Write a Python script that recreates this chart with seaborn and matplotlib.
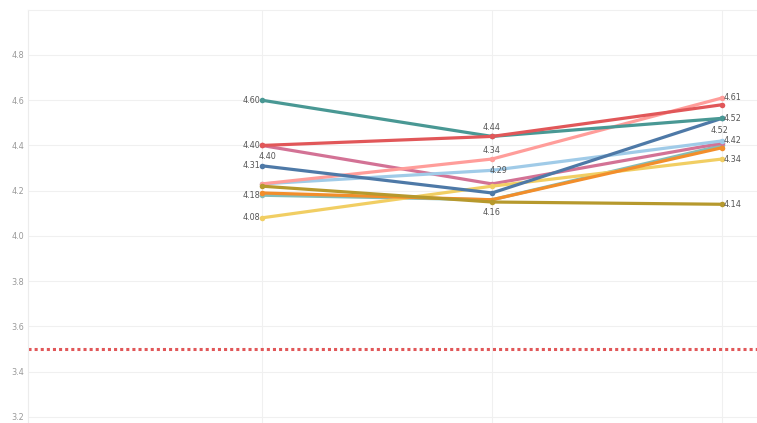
import matplotlib
matplotlib.use("Agg")
import matplotlib.pyplot as plt
import seaborn as sns
import pandas as pd

# three periods, ten series
periods = [0, 1, 2]
series_names = ["Teal", "Red", "Magenta", "Blue", "Salmon",
                "Light blue", "Olive", "Orange", "Sea green", "Yellow"]
teal = [4.60, 4.44, 4.52]
red = [4.40, 4.44, 4.58]
magenta = [4.40, 4.23, 4.41]
blue = [4.31, 4.19, 4.52]
salmon = [4.23, 4.34, 4.61]
light_blue = [4.23, 4.29, 4.42]
olive = [4.22, 4.15, 4.14]
orange = [4.19, 4.16, 4.39]
sea_green = [4.18, 4.16, 4.40]
yellow = [4.08, 4.22, 4.34]
target = 3.5

values = [teal, red, magenta, blue, salmon, light_blue, olive, orange, sea_green, yellow]
colors = ["#499894", "#e15759", "#d37295", "#4e79a7", "#ff9d9a",
          "#a0cbe8", "#b6992d", "#f28e2b", "#86bcb6", "#f1ce63"]
palette = dict(zip(series_names, colors))

rows = []
for name, vals in zip(series_names, values):
    for p, v in zip(periods, vals):
        rows.append({"series": name, "period": p, "value": v})
df = pd.DataFrame(rows)

sns.set_style("white")
plt.rcParams["font.family"] = ["Liberation Sans Narrow", "DejaVu Sans"]
plt.rcParams["font.stretch"] = "condensed"

fig = plt.figure(figsize=(7.57, 4.23), dpi=100)
ax = fig.add_axes([28 / 757, 0, 1 - 28 / 757, 1 - 9.75 / 423])

# draw order so the olive flat line sits on top like in the reference
order = ["Sea green", "Magenta", "Light blue", "Salmon", "Yellow", "Orange",
         "Blue", "Teal", "Red", "Olive"]
for name in order:
    sns.lineplot(data=df[df["series"] == name], x="period", y="value",
                 color=palette[name], linewidth=2.3, marker="o", markersize=4,
                 markeredgewidth=0, ax=ax, legend=False, sort=False)

ax.axhline(target, color="#e15759", linestyle=(0, (1, 1)), linewidth=2.2, zorder=1)

# point labels: (series, period, dx px, dy px, ha, va)
labels = [
    ("Teal", 0, -2, 0, "right", "center"),
    ("Red", 0, -2, 0, "right", "center"),
    ("Magenta", 0, 5, -11, "center", "center"),
    ("Blue", 0, -2, 0, "right", "center"),
    ("Sea green", 0, -2, 0, "right", "center"),
    ("Yellow", 0, -2, 0, "right", "center"),
    ("Red", 1, 0, 9, "center", "center"),
    ("Salmon", 1, 0, 9, "center", "center"),
    ("Light blue", 1, 7, 0, "center", "center"),
    ("Orange", 1, 0, -13, "center", "center"),
    ("Salmon", 2, 2, 0, "left", "center"),
    ("Blue", 2, 2, 0, "left", "center"),
    ("Teal", 2, -3, -12, "center", "center"),
    ("Light blue", 2, 2, 0, "left", "center"),
    ("Yellow", 2, 2, 0, "left", "center"),
    ("Olive", 2, 2, 0, "left", "center"),
]
for name, p, dx, dy, ha, va in labels:
    v = values[series_names.index(name)][p]
    ax.annotate(f"{v:.2f}", (periods[p], v), xytext=(dx * 0.72, dy * 0.72),
                textcoords="offset points", ha=ha, va=va,
                fontsize=6.5, color="#555555", zorder=10)

ax.set_xlim(-1.017, 2.152)
ax.set_ylim(3.173, 5.0)
ax.set_yticks([3.2, 3.4, 3.6, 3.8, 4.0, 4.2, 4.4, 4.6, 4.8])
ax.set_xticks(periods)
ax.tick_params(axis="x", length=0, labelbottom=False)
ax.tick_params(axis="y", length=0, labelsize=6.5, labelcolor="#999999", pad=3)
ax.set_xlabel("")
ax.set_ylabel("")
ax.grid(True, color="#f0f0f0", linewidth=0.8)
ax.set_axisbelow(True)
for side in ["right", "bottom"]:
    ax.spines[side].set_visible(False)
ax.spines["left"].set_color("#ececec")
ax.spines["top"].set_color("#f0f0f0")

fig.savefig("out.png", dpi=100)
